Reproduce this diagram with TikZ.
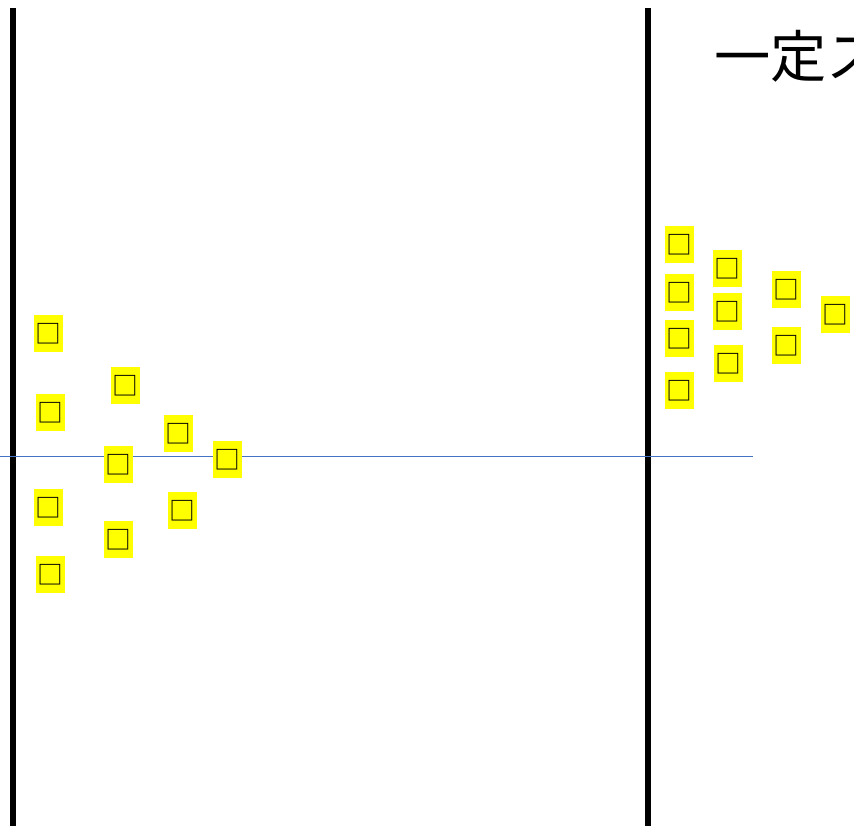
\documentclass[tikz,border=0pt]{standalone}
\usepackage{fontspec}
\newfontfamily\jpfont{Noto Sans CJK JP}
\definecolor{WallClr}{rgb}{0,0,0}
\definecolor{LineClr}{rgb}{0.267,0.447,0.769}
\definecolor{MolClr}{rgb}{1,1,0}

\begin{document}
\begin{tikzpicture}[x=0.03cm,y=-0.03cm,
  mol/.style={fill=MolClr,inner sep=0pt,minimum width=0.87cm,minimum height=1.11cm,
    font=\jpfont\fontsize{22pt}{22pt}\selectfont},
  wall/.style={line width=5pt,color=WallClr}]
\useasboundingbox (0,0) rectangle (854,826);
\clip (0,0) rectangle (854,826);

\coordinate (LT) at (13,8);
\coordinate (LB) at (13,826);
\coordinate (RT) at (648,8);
\coordinate (RB) at (648,826);
\coordinate (M0) at (0,456);
\coordinate (M1) at (753,456);

\draw[wall] (LT) -- (LB);
\draw[wall] (RT) -- (RB);
\draw[line width=0.8pt,color=LineClr] (M0) -- (M1);

% left group
\node[mol] (l1) at (48.5,333.5) {□};
\node[mol] (l2) at (125.5,385.5) {□};
\node[mol] (l3) at (50.5,412.5) {□};
\node[mol] (l4) at (178.5,433.5) {□};
\node[mol] (l5) at (118.5,464.5) {□};
\node[mol] (l6) at (227.5,459.5) {□};
\node[mol] (l7) at (48.5,507.5) {□};
\node[mol] (l8) at (182.5,510.5) {□};
\node[mol] (l9) at (118.5,539.5) {□};
\node[mol] (l10) at (50.5,574.5) {□};

% right group
\node[mol] (r1) at (679.5,244.5) {□};
\node[mol] (r2) at (727.5,268.5) {□};
\node[mol] (r3) at (679.5,292.5) {□};
\node[mol] (r4) at (727.5,311.5) {□};
\node[mol] (r5) at (786.5,289.5) {□};
\node[mol] (r6) at (835.5,314.5) {□};
\node[mol] (r7) at (679.5,338.5) {□};
\node[mol] (r8) at (786.5,345.5) {□};
\node[mol] (r9) at (728.5,363.5) {□};
\node[mol] (r10) at (679.5,390.5) {□};

\node[anchor=west,inner sep=0pt,font=\jpfont\fontsize{48pt}{48pt}\selectfont] (title) at (714,56) {一定スピード};

\end{tikzpicture}
\end{document}
